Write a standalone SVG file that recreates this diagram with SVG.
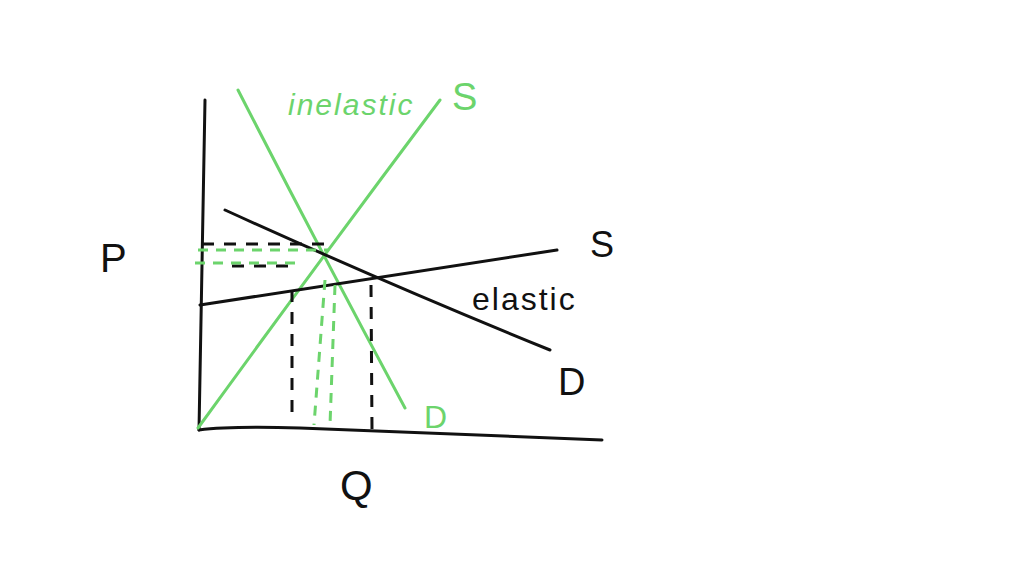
<svg xmlns="http://www.w3.org/2000/svg" width="1024" height="576" viewBox="0 0 1024 576">
<style>
.k{stroke:#111;stroke-width:3;fill:none;stroke-linecap:round}
.g{stroke:#6cd46c;stroke-width:3;fill:none;stroke-linecap:round}
.dk{stroke:#111;stroke-width:3;fill:none;stroke-dasharray:12 10}
.dg{stroke:#6cd46c;stroke-width:3;fill:none;stroke-dasharray:10 8}
.tk{font-family:"Liberation Sans",sans-serif;fill:#111}
.tg{font-family:"Liberation Sans",sans-serif;fill:#6cd46c}
</style>
<rect width="1024" height="576" fill="#fff"/>
<g id="axes">
<path class="k" d="M205 100 L199 430"/>
<path class="k" d="M199 430 Q230 426 300 428 L602 440"/>
</g>
<g id="connectors">
<path class="g" d="M238 90 Q320 250 405 408"/>
<path class="g" d="M198 428 Q320 260 440 100"/>
<path class="k" d="M225 210 Q390 285 550 350"/>
<path class="k" d="M200 305 L557 250"/>
<path class="dk" d="M202 244 L325 244"/>
<path class="dk" d="M232 266 L292 266"/>
<path class="dg" d="M198 250 L328 250"/>
<path class="dg" d="M195 263 L300 263"/>
<path class="dk" d="M292 290 L292 418"/>
<path class="dk" d="M371 285 L372 430"/>
<path class="dg" d="M325 280 L314 425"/>
<path class="dg" d="M335 285 L330 425"/>
</g>
<g id="labels">
<text class="tg" x="288" y="115" font-size="30" font-style="italic" letter-spacing="2">inelastic</text>
<text class="tg" x="452" y="110" font-size="38">S</text>
<text class="tk" x="100" y="272" font-size="40">P</text>
<text class="tk" x="590" y="257" font-size="36">S</text>
<text class="tk" x="472" y="310" font-size="32" letter-spacing="2">elastic</text>
<text class="tk" x="558" y="395" font-size="38">D</text>
<text class="tg" x="424" y="428" font-size="32">D</text>
<text class="tk" x="340" y="500" font-size="42">Q</text>
</g>
</svg>
